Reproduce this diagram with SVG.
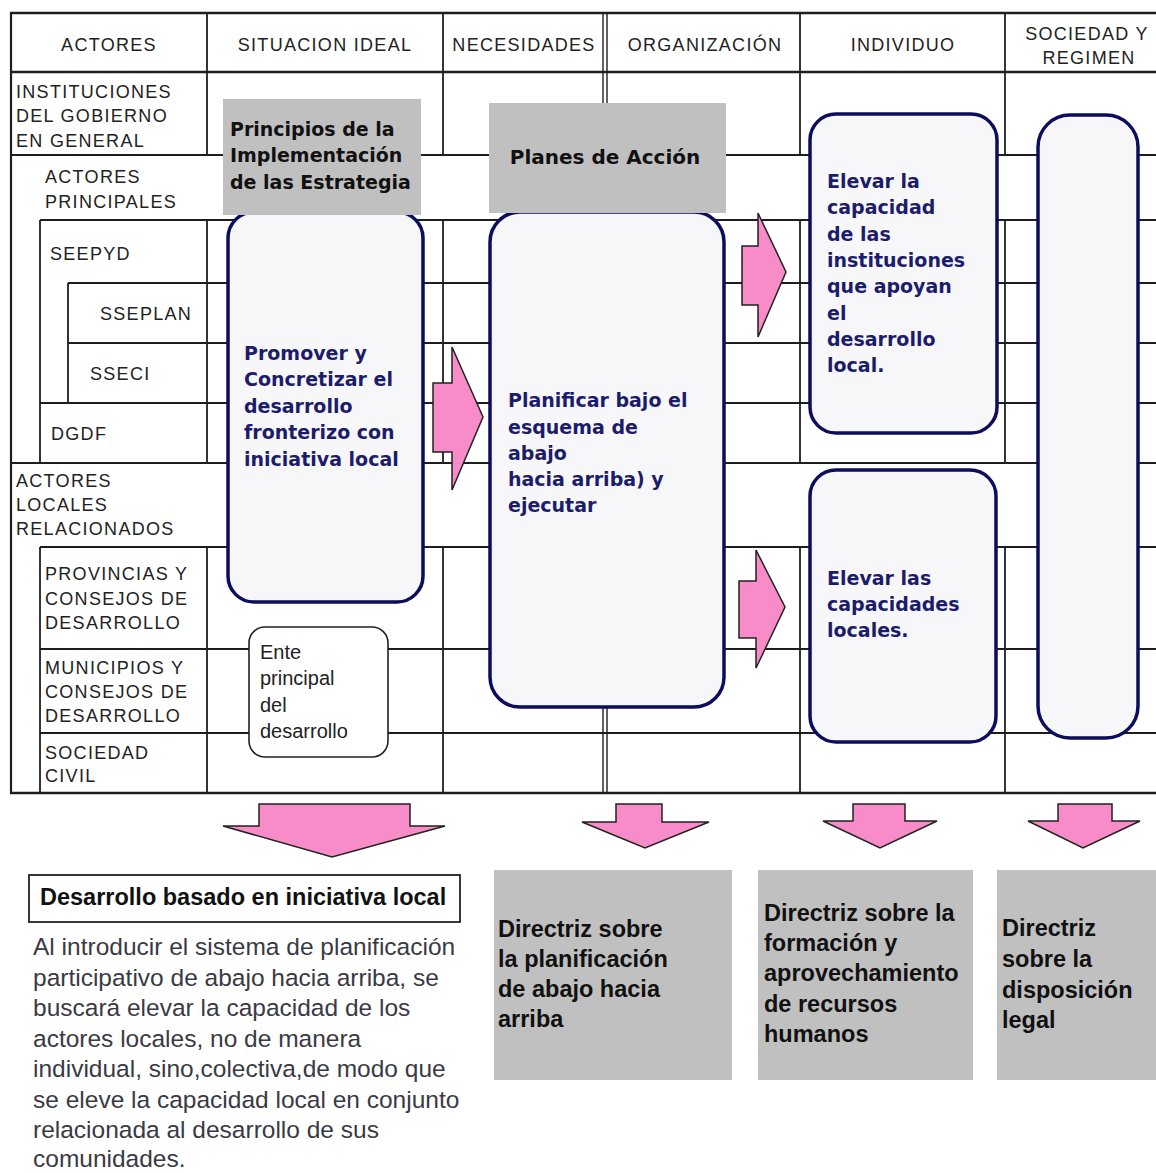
<svg xmlns="http://www.w3.org/2000/svg" width="1156" height="1173" viewBox="0 0 1156 1173">
<style>
.lbl{font-family:"Liberation Sans",Arial,sans-serif;font-size:18px;letter-spacing:1.3px;fill:#222}
.hdr{font-family:"Liberation Sans",Arial,sans-serif;font-size:18px;letter-spacing:1.3px;fill:#222;text-anchor:middle}
.blue{font-family:"DejaVu Sans",Verdana,sans-serif;font-weight:bold;font-size:19px;fill:#1c1c6c}
.blk{font-family:"DejaVu Sans",Verdana,sans-serif;font-weight:bold;font-size:19px;fill:#111}
.gray{fill:#c0c0c0}
.rbox{fill:#f7f7fa;stroke:#0d0d5e;stroke-width:3.5}
.ente{fill:#fff;stroke:#222;stroke-width:1.6}
.ente-t{font-family:"Liberation Sans",Arial,sans-serif;font-size:20px;fill:#222}
.arrow{fill:#f78cc8;stroke:#222;stroke-width:1.5;stroke-linejoin:miter}
.grid line{stroke:#1e1e1e;stroke-width:1.8}
.dir{font-family:"Liberation Sans",Arial,sans-serif;font-weight:bold;font-size:23.5px;fill:#111}
.para{font-family:"Liberation Sans",Arial,sans-serif;font-size:24.5px;fill:#3a3a44}
</style>
<rect width="1156" height="1173" fill="#fff"/>

<g id="grid" class="grid">
  <line x1="10" y1="13" x2="1156" y2="13" style="stroke-width:2.5"/>
  <line x1="10" y1="72" x2="1156" y2="72" style="stroke-width:2.5"/>
  <line x1="10" y1="155" x2="1156" y2="155"/>
  <line x1="40" y1="220" x2="1156" y2="220"/>
  <line x1="68" y1="283" x2="1156" y2="283"/>
  <line x1="68" y1="343" x2="1156" y2="343"/>
  <line x1="40" y1="403" x2="1156" y2="403"/>
  <line x1="10" y1="463" x2="1156" y2="463"/>
  <line x1="40" y1="547" x2="1156" y2="547"/>
  <line x1="40" y1="649" x2="1156" y2="649"/>
  <line x1="40" y1="733" x2="1156" y2="733"/>
  <line x1="10" y1="793" x2="1156" y2="793" style="stroke-width:2.5"/>
  <line x1="11" y1="12" x2="11" y2="794" style="stroke-width:2.2"/>
  <line x1="40" y1="220" x2="40" y2="463"/>
  <line x1="40" y1="547" x2="40" y2="793"/>
  <line x1="68" y1="283" x2="68" y2="403"/>
  <line x1="207" y1="13" x2="207" y2="155"/>
  <line x1="207" y1="220" x2="207" y2="463"/>
  <line x1="207" y1="547" x2="207" y2="793"/>
  <line x1="443" y1="13" x2="443" y2="155"/>
  <line x1="443" y1="220" x2="443" y2="463"/>
  <line x1="443" y1="547" x2="443" y2="793"/>
  <line x1="603" y1="13" x2="603" y2="155" style="stroke-width:1.4"/>
  <line x1="607" y1="13" x2="607" y2="155" style="stroke-width:1.4"/>
  <line x1="603" y1="220" x2="603" y2="463" style="stroke-width:1.4"/>
  <line x1="607" y1="220" x2="607" y2="463" style="stroke-width:1.4"/>
  <line x1="603" y1="547" x2="603" y2="793" style="stroke-width:1.4"/>
  <line x1="607" y1="547" x2="607" y2="793" style="stroke-width:1.4"/>
  <line x1="800" y1="13" x2="800" y2="155"/>
  <line x1="800" y1="220" x2="800" y2="463"/>
  <line x1="800" y1="547" x2="800" y2="793"/>
  <line x1="1005" y1="13" x2="1005" y2="155"/>
  <line x1="1005" y1="220" x2="1005" y2="463"/>
  <line x1="1005" y1="547" x2="1005" y2="793"/>
</g>

<g id="headers">
  <text class="hdr" x="109" y="50.5">ACTORES</text>
  <text class="hdr" x="325" y="50.5">SITUACION IDEAL</text>
  <text class="hdr" x="524" y="50.5">NECESIDADES</text>
  <text class="hdr" x="705" y="50.5">ORGANIZACIÓN</text>
  <text class="hdr" x="903" y="50.5">INDIVIDUO</text>
  <text class="hdr" x="1087" y="39.5">SOCIEDAD Y</text>
  <text class="hdr" x="1089" y="63.5">REGIMEN</text>
</g>

<g id="actor-labels">
  <text class="lbl" x="16" y="97.5">INSTITUCIONES</text>
  <text class="lbl" x="16" y="122">DEL GOBIERNO</text>
  <text class="lbl" x="16" y="146.5">EN GENERAL</text>
  <text class="lbl" x="45" y="182.5">ACTORES</text>
  <text class="lbl" x="45" y="207.5">PRINCIPALES</text>
  <text class="lbl" x="50" y="259.5">SEEPYD</text>
  <text class="lbl" x="100" y="319.5">SSEPLAN</text>
  <text class="lbl" x="90" y="379.5">SSECI</text>
  <text class="lbl" x="51" y="439.5">DGDF</text>
  <text class="lbl" x="16" y="486.5">ACTORES</text>
  <text class="lbl" x="16" y="510.5">LOCALES</text>
  <text class="lbl" x="16" y="534.5">RELACIONADOS</text>
  <text class="lbl" x="45" y="579.5">PROVINCIAS Y</text>
  <text class="lbl" x="45" y="604.5">CONSEJOS DE</text>
  <text class="lbl" x="45" y="628.5">DESARROLLO</text>
  <text class="lbl" x="45" y="673.5">MUNICIPIOS Y</text>
  <text class="lbl" x="45" y="697.5">CONSEJOS DE</text>
  <text class="lbl" x="45" y="721.5">DESARROLLO</text>
  <text class="lbl" x="45" y="758.5">SOCIEDAD</text>
  <text class="lbl" x="45" y="781.5">CIVIL</text>
</g>

<g id="node-promover">
  <rect class="rbox" x="228" y="212" width="195" height="390" rx="26"/>
  <text class="blue" x="244" y="360">Promover y</text>
  <text class="blue" x="244" y="386">Concretizar el</text>
  <text class="blue" x="244" y="413">desarrollo</text>
  <text class="blue" x="244" y="439">fronterizo con</text>
  <text class="blue" x="244" y="466">iniciativa local</text>
</g>

<g id="node-planificar">
  <rect class="rbox" x="490" y="212" width="234" height="495" rx="30"/>
  <text class="blue" x="508" y="407">Planificar bajo el</text>
  <text class="blue" x="508" y="434">esquema de</text>
  <text class="blue" x="508" y="460">abajo</text>
  <text class="blue" x="508" y="486">hacia arriba) y</text>
  <text class="blue" x="508" y="512">ejecutar</text>
</g>

<g id="node-principios">
  <rect class="gray" x="223" y="99" width="198" height="116"/>
  <text class="blk" x="230" y="136">Principios de la</text>
  <text class="blk" x="230" y="162">Implementación</text>
  <text class="blk" x="230" y="189">de las Estrategia</text>
</g>

<g id="node-planes">
  <rect class="gray" x="489" y="103" width="237" height="110"/>
  <text class="blk" x="605" y="164" text-anchor="middle" style="font-size:20px">Planes de Acción</text>
</g>

<g id="node-elevar-instituciones">
  <rect class="rbox" x="810" y="114" width="187" height="319" rx="26"/>
  <text class="blue" x="827" y="188">Elevar la</text>
  <text class="blue" x="827" y="214">capacidad</text>
  <text class="blue" x="827" y="240.5">de las</text>
  <text class="blue" x="827" y="267">instituciones</text>
  <text class="blue" x="827" y="293">que apoyan</text>
  <text class="blue" x="827" y="319.5">el</text>
  <text class="blue" x="827" y="346">desarrollo</text>
  <text class="blue" x="827" y="372">local.</text>
</g>

<g id="node-elevar-locales">
  <rect class="rbox" x="810" y="470" width="186" height="272" rx="26"/>
  <text class="blue" x="827" y="585">Elevar las</text>
  <text class="blue" x="827" y="611">capacidades</text>
  <text class="blue" x="827" y="637">locales.</text>
</g>

<g id="node-sociedad">
  <rect class="rbox" x="1038" y="115" width="100" height="623" rx="32"/>
</g>

<g id="node-ente">
  <rect class="ente" x="249" y="627" width="139" height="130" rx="16"/>
  <text class="ente-t" x="260" y="659">Ente</text>
  <text class="ente-t" x="260" y="685">principal</text>
  <text class="ente-t" x="260" y="712">del</text>
  <text class="ente-t" x="260" y="738">desarrollo</text>
</g>

<g id="connectors">
  <polygon class="arrow" points="433,383 452,383 452,347 483,417 452,490 452,452 433,452"/>
  <polygon class="arrow" points="742,246 758,246 758,213 786,272 758,337 758,305 742,305"/>
  <polygon class="arrow" points="739,581 756,581 756,550 785,607 756,668 756,638 739,638"/>
  <polygon class="arrow" points="259,804 410,804 410,826 445,826 332,857 223,826 259,826"/>
  <polygon class="arrow" points="616,804 662,804 662,822 709,822 645,848 582,822 616,822"/>
  <polygon class="arrow" points="853,804 905,804 905,821 937,821 880,848 823,821 853,821"/>
  <polygon class="arrow" points="1058,804 1112,804 1112,821 1140,821 1083,848 1028,821 1058,821"/>
</g>

<g id="node-desarrollo">
  <rect x="29" y="875" width="431" height="47" fill="#fff" stroke="#222" stroke-width="1.8"/>
  <text class="dir" x="40" y="905">Desarrollo basado en iniciativa local</text>
  <text class="para" x="33" y="955">Al introducir el sistema de planificación</text>
  <text class="para" x="33" y="985.5">participativo de abajo hacia arriba, se</text>
  <text class="para" x="33" y="1016">buscará elevar la capacidad de los</text>
  <text class="para" x="33" y="1046.5">actores locales, no de manera</text>
  <text class="para" x="33" y="1077">individual, sino,colectiva,de modo que</text>
  <text class="para" x="33" y="1107.5">se eleve la capacidad local en conjunto</text>
  <text class="para" x="33" y="1138">relacionada al desarrollo de sus</text>
  <text class="para" x="33" y="1167">comunidades.</text>
</g>

<g id="node-directriz-planificacion">
  <rect class="gray" x="494" y="870" width="238" height="210"/>
  <text class="dir" x="498" y="937">Directriz sobre</text>
  <text class="dir" x="498" y="967">la planificación</text>
  <text class="dir" x="498" y="997">de abajo hacia</text>
  <text class="dir" x="498" y="1027">arriba</text>
</g>

<g id="node-directriz-formacion">
  <rect class="gray" x="758" y="870" width="215" height="210"/>
  <text class="dir" x="764" y="921">Directriz sobre la</text>
  <text class="dir" x="764" y="951">formación y</text>
  <text class="dir" x="764" y="981">aprovechamiento</text>
  <text class="dir" x="764" y="1012">de recursos</text>
  <text class="dir" x="764" y="1042">humanos</text>
</g>

<g id="node-directriz-legal">
  <rect class="gray" x="997" y="870" width="163" height="210"/>
  <text class="dir" x="1002" y="936">Directriz</text>
  <text class="dir" x="1002" y="967">sobre la</text>
  <text class="dir" x="1002" y="998">disposición</text>
  <text class="dir" x="1002" y="1028">legal</text>
</g>
</svg>
